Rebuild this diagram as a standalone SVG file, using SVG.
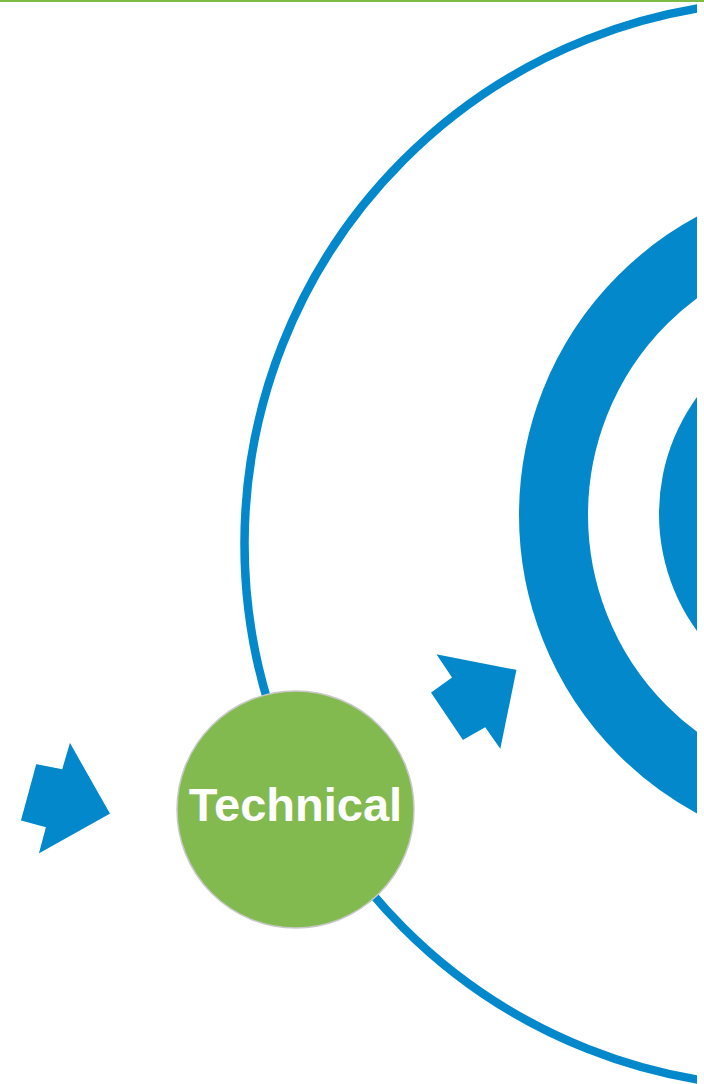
<svg xmlns="http://www.w3.org/2000/svg" width="704" height="1084" viewBox="0 0 704 1084">
  <style>
    .blue { fill: #0288CB; }
    .ring { fill: none; stroke: #0288CB; }
    .arrow { fill: #0288CB; stroke: #ffffff; stroke-width: 1.5; stroke-linejoin: miter; }
    .label { font-family: "Liberation Sans", Arial, sans-serif; font-weight: bold; font-size: 47px; fill: #ffffff; text-anchor: middle; }
  </style>
  <defs>
    <clipPath id="clipR">
      <rect x="0" y="0" width="697" height="1084"/>
    </clipPath>
  </defs>
  <rect x="0" y="0" width="704" height="1084" fill="#ffffff"/>
  <rect id="topline" x="0" y="0" width="704" height="2" fill="#7DBB47"/>
  <g id="rings" clip-path="url(#clipR)">
    <circle id="outer-orbit" class="ring" cx="787.5" cy="544" r="543" stroke-width="8.5"/>
    <circle id="thick-ring" class="ring" cx="858" cy="515" r="304.5" stroke-width="69"/>
    <circle id="core" class="blue" cx="858" cy="514" r="199"/>
  </g>
  <g id="connectors">
    <polygon id="arrow-left" class="arrow" points="111,814 69.7,741 61.7,768.3 35.7,763.3 20,821 45,827.7 37.7,855"/>
    <polygon id="arrow-right" class="arrow" points="517.3,669.3 435,653.3 451,677.3 430,692.3 462.7,741 485,728.3 500.7,750.7"/>
  </g>
  <g id="node-technical">
    <circle cx="295.5" cy="809.5" r="118.5" fill="#83BA50" stroke="#c8c8c8" stroke-width="1.5"/>
    <text class="label" x="295.5" y="820.5">Technical</text>
  </g>
</svg>
